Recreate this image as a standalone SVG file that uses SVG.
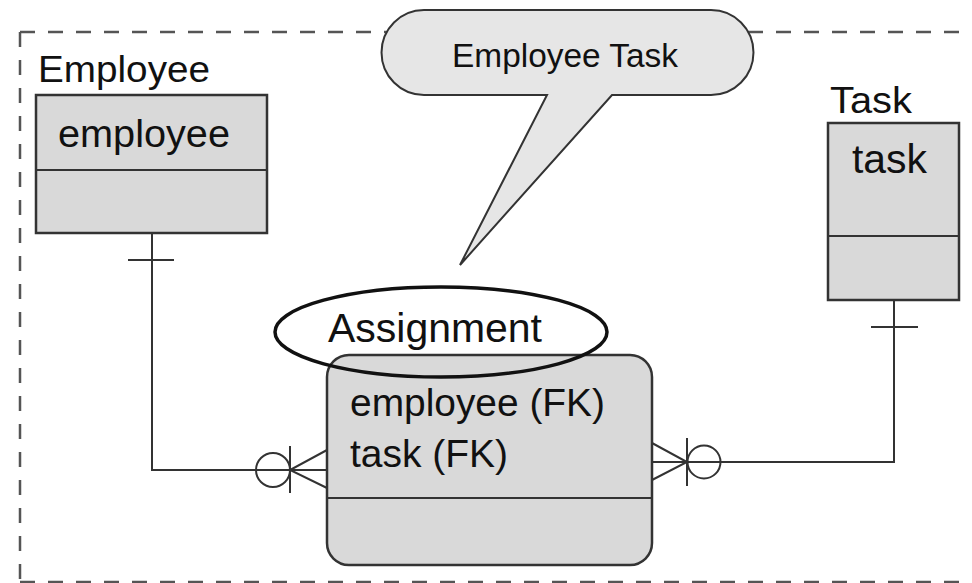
<svg xmlns="http://www.w3.org/2000/svg" width="972" height="583" viewBox="0 0 972 583">
  <style>
    .frame { fill: none; stroke: #555; stroke-width: 2.5; stroke-dasharray: 15 13; }
    .entity { fill: #d9d9d9; stroke: #333; stroke-width: 2.5; }
    .div { stroke: #333; stroke-width: 2; }
    .conn { fill: none; stroke: #333; stroke-width: 2; }
    .lbl { font-family: "Liberation Sans", Arial, sans-serif; fill: #111; }
  </style>

  <!-- dashed subject-area frame -->
  <g id="frame">
    <path class="frame" d="M20,32 H972 M20,32 V583 M20,582 H972"/>
  </g>

  <!-- relationship lines with cardinality symbols -->
  <g id="connectors">
    <!-- Employee (one) to Assignment (zero or many) -->
    <path class="conn" d="M152,233 V470 H327"/>
    <line class="conn" x1="128" y1="260" x2="174" y2="260"/>
    <circle class="conn" cx="273" cy="470" r="17"/>
    <line class="conn" x1="290" y1="446" x2="290" y2="493"/>
    <path class="conn" d="M327,450 L290,470 L327,488"/>
    <!-- Task (one) to Assignment (zero or many) -->
    <path class="conn" d="M894,300 V462 H652"/>
    <line class="conn" x1="871" y1="327" x2="918" y2="327"/>
    <circle class="conn" cx="704" cy="462" r="16.5"/>
    <line class="conn" x1="687" y1="438" x2="687" y2="486"/>
    <path class="conn" d="M652,443 L687,462 L652,480"/>
  </g>

  <g id="employee">
    <text class="lbl" x="38" y="82" font-size="37" textLength="172" lengthAdjust="spacingAndGlyphs">Employee</text>
    <rect class="entity" x="36" y="95" width="231" height="138"/>
    <line class="div" x1="36" y1="170" x2="267" y2="170"/>
    <text class="lbl" x="58" y="147" font-size="39" textLength="172" lengthAdjust="spacingAndGlyphs">employee</text>
  </g>

  <g id="task">
    <text class="lbl" x="830" y="113" font-size="37" textLength="82" lengthAdjust="spacingAndGlyphs">Task</text>
    <rect class="entity" x="828" y="123" width="131" height="177"/>
    <line class="div" x1="828" y1="236" x2="959" y2="236"/>
    <text class="lbl" x="852" y="173" font-size="40" textLength="75" lengthAdjust="spacingAndGlyphs">task</text>
  </g>

  <g id="assignment">
    <rect class="entity" x="327" y="355" width="325" height="210" rx="22" ry="22"/>
    <line class="div" x1="327" y1="498" x2="652" y2="498"/>
    <text class="lbl" x="350" y="416" font-size="38" textLength="255" lengthAdjust="spacingAndGlyphs">employee (FK)</text>
    <text class="lbl" x="350" y="467" font-size="38" textLength="158" lengthAdjust="spacingAndGlyphs">task (FK)</text>
    <ellipse cx="441" cy="332" rx="166" ry="45" fill="none" stroke="#111" stroke-width="3.5"/>
    <text class="lbl" x="328" y="342" font-size="40" textLength="214" lengthAdjust="spacingAndGlyphs">Assignment</text>
  </g>

  <g id="callout">
    <path d="M424,10 H711 A42,42 0 0 1 711,95 H612 L460,265 L547,95 H424 A42,42 0 0 1 424,10 Z" fill="#e6e6e6" stroke="#333" stroke-width="2"/>
    <text class="lbl" x="452" y="67" font-size="33" textLength="226" lengthAdjust="spacingAndGlyphs">Employee Task</text>
  </g>
</svg>
